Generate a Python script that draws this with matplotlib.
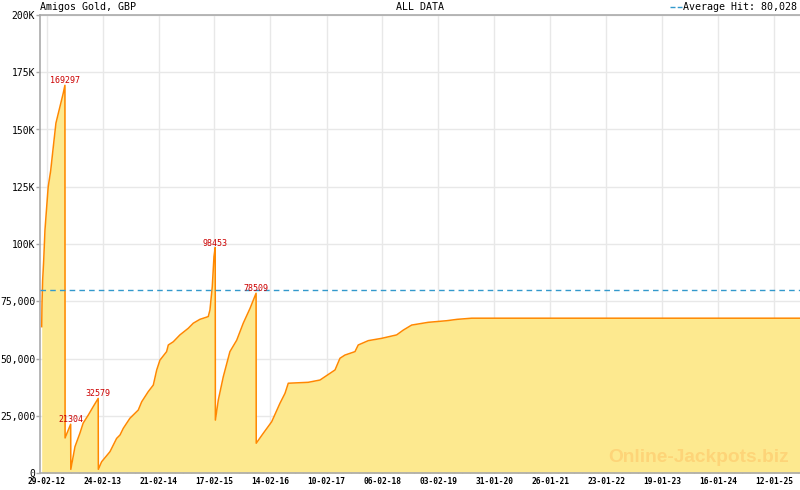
import matplotlib
matplotlib.use("Agg")
import matplotlib.pyplot as plt
import matplotlib.dates as mdates
from matplotlib.lines import Line2D
import numpy as np
import pandas as pd

# ---- data ----
start_date = "2012-02-29"
day_offsets = [-32, -30, -26, -19, -11, 0, 10, 26, 43, 60, 86, 107, 118,
               119, 155,
               156, 183, 215, 236, 269, 301, 333,
               334, 355, 409, 452, 474, 495, 538, 592, 614, 656, 689, 711, 732,
               775, 786, 818, 861, 915, 947, 990, 1044, 1055, 1070, 1081, 1089,
               1090, 1109, 1141, 1184, 1228, 1270, 1314, 1353,
               1354, 1399, 1454, 1507, 1540, 1561, 1690, 1766, 1830, 1863, 1895,
               1927, 1992, 2013, 2078, 2164, 2261, 2304, 2358, 2465, 2584, 2652,
               2746, 4867]
jackpot = [63900, 74000, 84000, 93000, 106000, 116000, 125000, 132000, 142500,
           152800, 160000, 165800, 169297,
           15300, 21304,
           1600, 11500, 17400, 21800, 25300, 29000, 32579,
           1600, 4900, 9300, 15100, 16600, 19500, 23900, 27500, 31100, 35500,
           38400, 45000, 49300,
           53000, 55900, 57300, 60300, 63200, 65400, 67100, 68300, 71200, 81400,
           94500, 98453,
           23100, 31900, 42000, 53000, 58000, 65400, 71900, 78509,
           13000, 17300, 22400, 30400, 34800, 39200, 39600, 40600, 43500, 45000,
           50100, 51500, 53000, 55900, 57800, 58800, 60300, 62400, 64600, 65800,
           66500, 67100, 67600, 67600]
peak_labels = [169297, 21304, 32579, 98453, 78509]
average_hit = 80028
tick_dates = ["2012-02-29", "2013-02-24", "2014-02-21", "2015-02-17",
              "2016-02-14", "2017-02-10", "2018-02-06", "2019-02-03",
              "2020-01-31", "2021-01-26", "2022-01-23", "2023-01-19",
              "2024-01-16", "2025-01-12"]
tick_labels = ["29-02-12", "24-02-13", "21-02-14", "17-02-15", "14-02-16",
               "10-02-17", "06-02-18", "03-02-19", "31-01-20", "26-01-21",
               "23-01-22", "19-01-23", "16-01-24", "12-01-25"]
y_ticks = [0, 25000, 50000, 75000, 100000, 125000, 150000, 175000, 200000]
y_tick_labels = ["0", "25,000", "50,000", "75,000", "100K", "125K", "150K",
                 "175K", "200K"]

# ---- build ----
t0 = pd.Timestamp(start_date)
dates = [t0 + pd.Timedelta(days=d) for d in day_offsets]
x = mdates.date2num(dates)
y = np.array(jackpot, dtype=float)

mono = "DejaVu Sans Mono"
grey = "#aaaaaa"

fig = plt.figure(figsize=(8, 4.9), dpi=100)
ax = fig.add_axes([40 / 800, 17 / 490, 760 / 800, 458 / 490])

xmin = mdates.date2num(t0 - pd.Timedelta(days=43))
xmax = mdates.date2num(t0 + pd.Timedelta(days=4867))
ax.set_xlim(xmin, xmax)
ax.set_ylim(0, 200000)

ax.fill_between(x, y, 0, color="#fde98f", zorder=2, lw=0)
ax.plot(x, y, color="#ff8800", lw=1.1, zorder=3)
ax.axhline(average_hit, color="#3399cc", lw=1, ls=(0, (4, 3)), zorder=4)

for pv in peak_labels:
    i = jackpot.index(pv)
    ax.annotate(str(pv), (x[i], y[i]), xytext=(0, 0), textcoords="offset points",
                ha="center", va="bottom", color="#cc0000", fontsize=6,
                family=mono, zorder=5)

# ticks
major = mdates.date2num(pd.to_datetime(tick_dates))
step = (major[1:] - major[:-1]).mean() / 7.0
minor = np.arange(major[0], xmax, step)
minor = np.concatenate([minor, np.arange(major[0] - step, xmin, -step)])
ax.set_xticks(major)
ax.set_xticklabels(tick_labels, family=mono, fontsize=5.7, fontweight="bold")
ax.set_xticks(minor, minor=True)
ax.tick_params(axis="x", which="major", direction="in", length=5, width=1,
               color=grey, pad=3)
ax.tick_params(axis="x", which="minor", direction="in", length=3, width=1,
               color=grey)
ax.set_yticks(y_ticks)
ax.set_yticklabels(y_tick_labels, family=mono, fontsize=7)
ax.tick_params(axis="y", direction="out", length=3, width=1, color=grey, pad=0.5)

ax.grid(True, which="major", color="#e8e8e8", lw=1, zorder=0)
ax.set_axisbelow(True)
for s in ["left", "bottom", "top"]:
    ax.spines[s].set_color(grey)
    ax.spines[s].set_linewidth(1.2)
ax.spines["right"].set_visible(False)

# header texts
hy = 1 - 7 / 490
fig.text(40 / 800, hy, "Amigos Gold, GBP", family=mono, fontsize=7.2,
         ha="left", va="center")
fig.text(420 / 800, hy, "ALL DATA", family=mono, fontsize=7.2,
         ha="center", va="center")
fig.text(797 / 800, hy, "Average Hit: 80,028", family=mono, fontsize=7.2,
         ha="right", va="center")
fig.lines.append(Line2D([670 / 800, 682 / 800], [hy, hy], transform=fig.transFigure,
                        color="#3399cc", lw=1, ls=(0, (3.6, 1.6))))

# watermark
ax.text(749 / 760, (473 - 457.5) / 458, "Online-Jackpots.biz",
        transform=ax.transAxes, ha="right", va="center", fontsize=13.8,
        fontweight="bold", family="Liberation Sans", color="#fdd478", zorder=2.5)

fig.savefig("out.png", dpi=100)
